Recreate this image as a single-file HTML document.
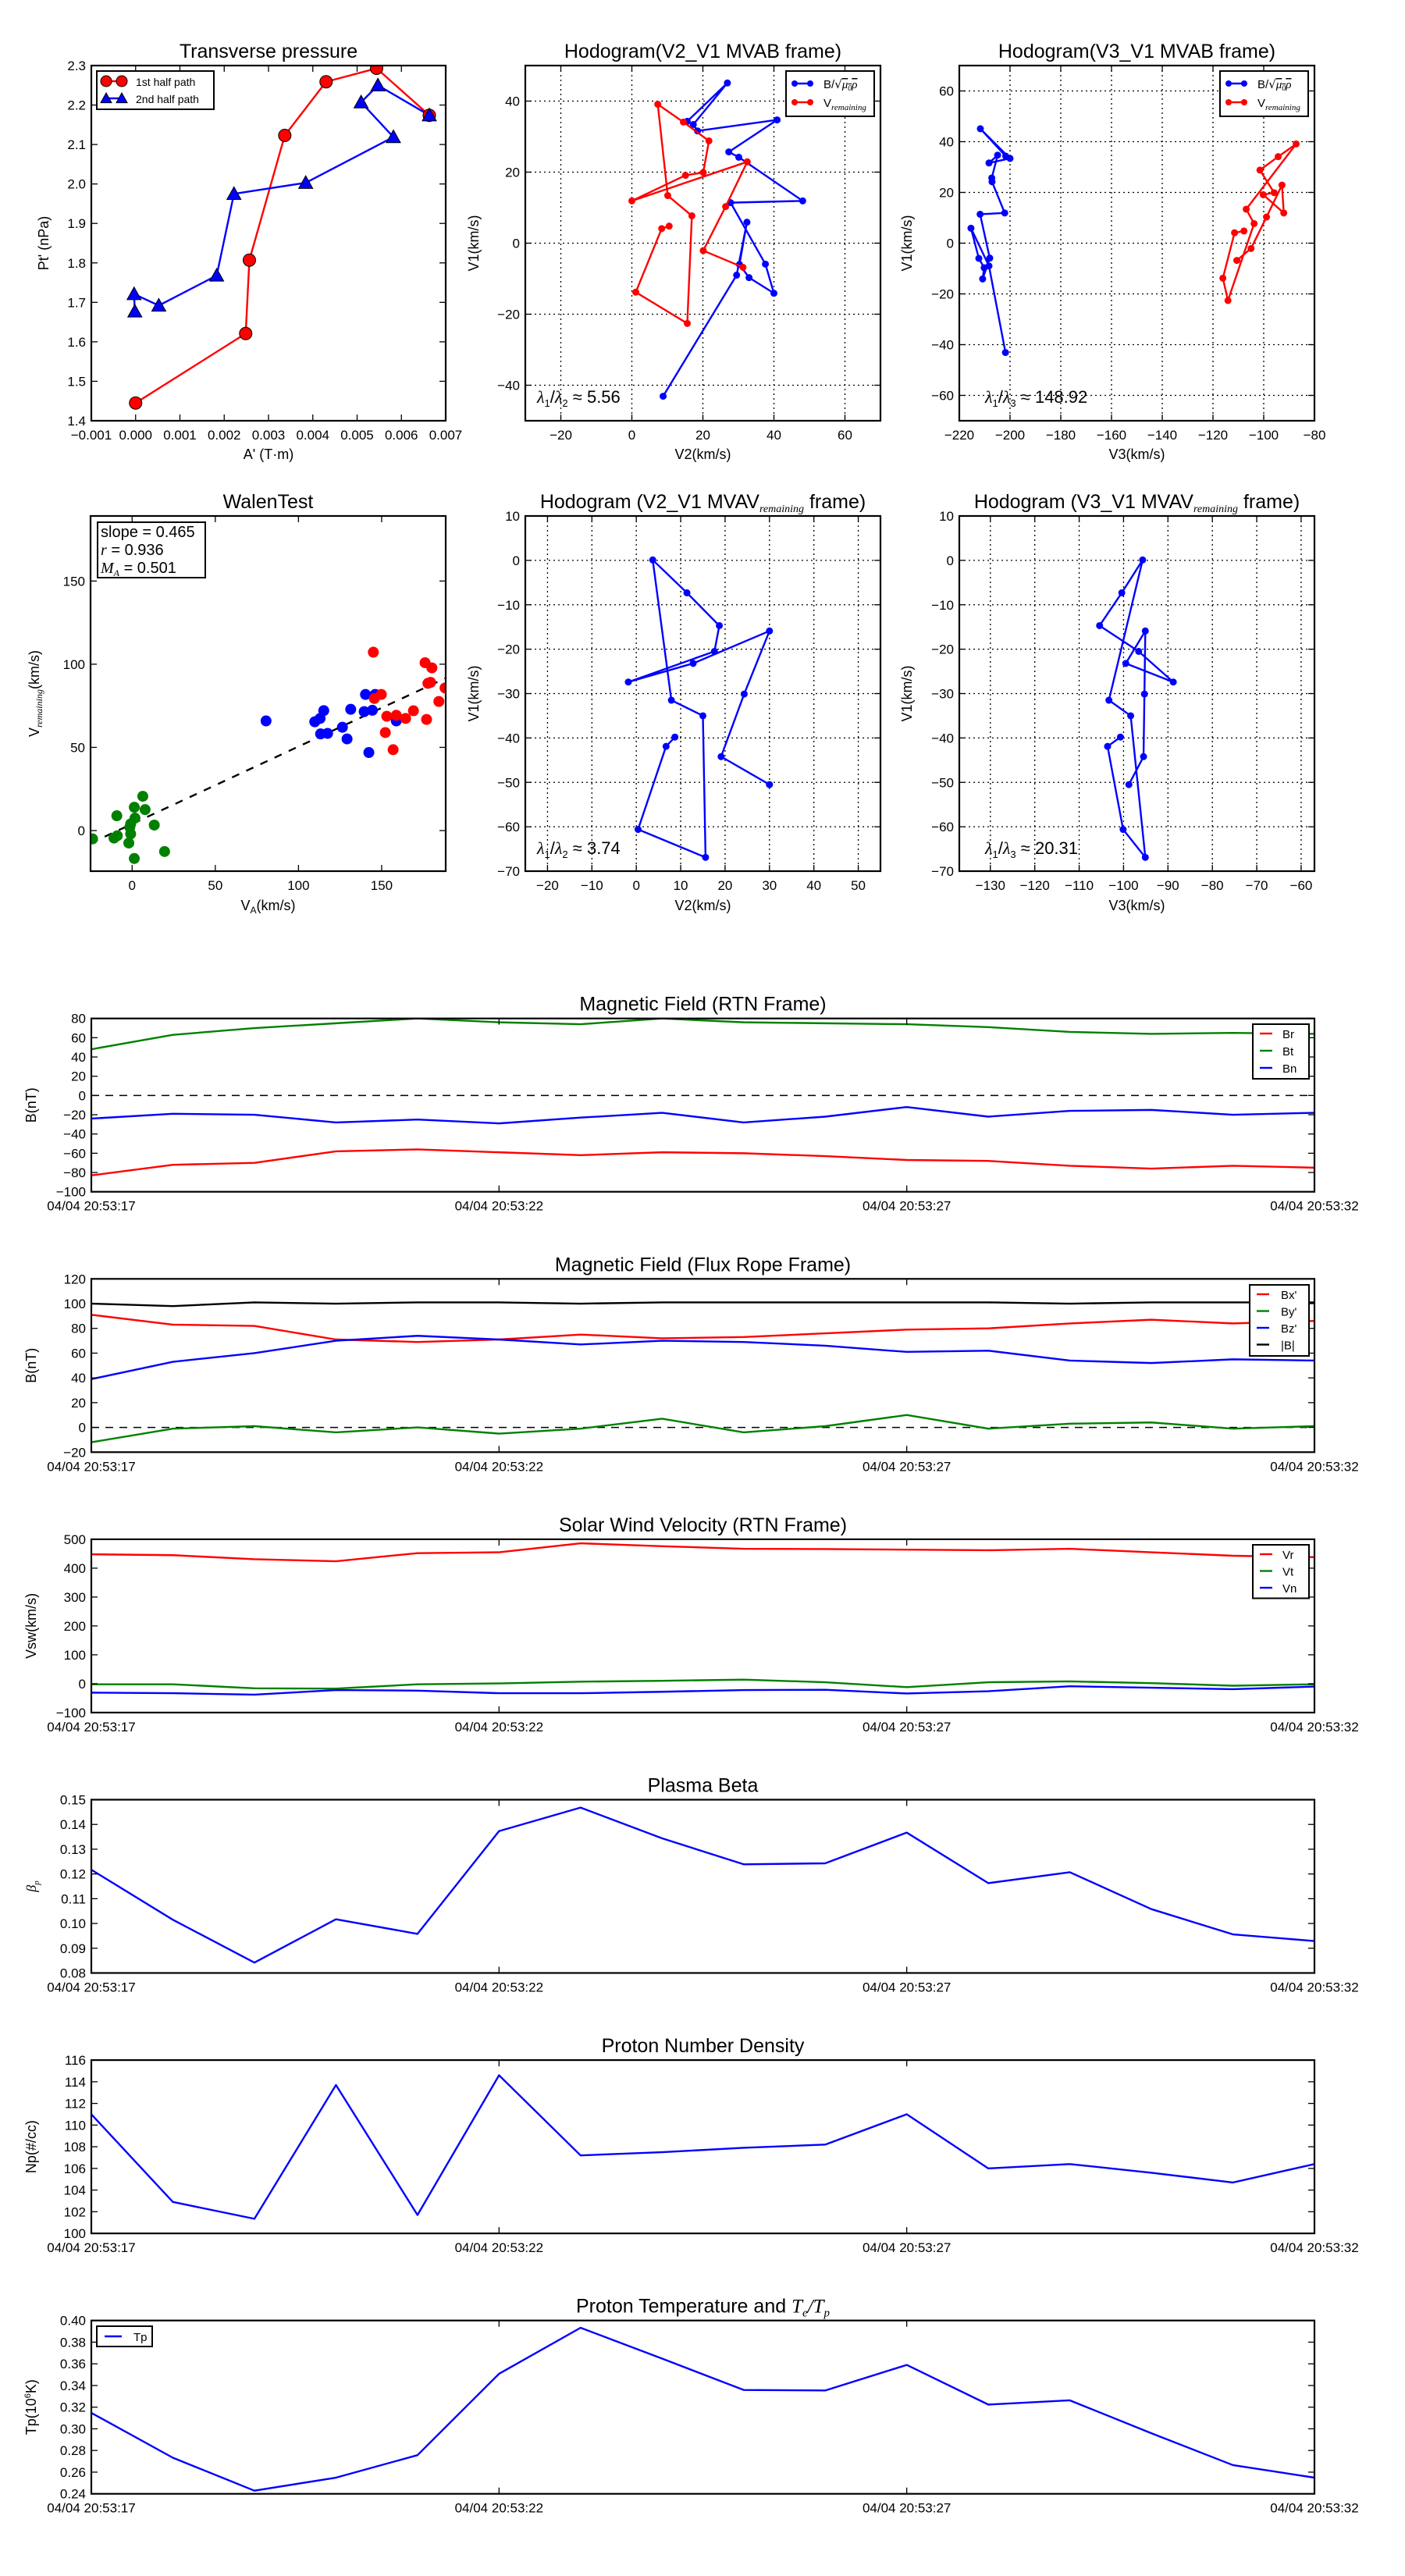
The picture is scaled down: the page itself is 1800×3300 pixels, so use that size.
<!DOCTYPE html>
<html><head><meta charset="utf-8"><title>Flux rope analysis</title>
<style>
html,body{margin:0;padding:0;background:#fff;}
svg{display:block;font-family:"Liberation Sans",sans-serif;}
</style></head>
<body>
<svg id="fig" xmlns="http://www.w3.org/2000/svg" width="1800" height="3300" viewBox="0 0 1800 3300"></svg>
<script>
// ---------- DATA ----------
const tpRedX=[0,0.002485,0.002568,0.003367,0.0043,0.00544,0.00663];
const tpRedY=[1.445,1.621,1.807,2.123,2.259,2.293,2.174];
const tpBlueX=[0.00663,0.00547,0.00509,0.00582,0.00384,0.00222,0.00183,0.000523,-0.000035,-0.000018];
const tpBlueY=[2.174,2.250,2.207,2.119,2.003,1.975,1.768,1.692,1.721,1.677];

const hbV2=[15.6,26.9,17.3,18.5,40.9,27.3,30.1,48.1,27.8,37.6,40,33,30.3,32.4,29.5,8.8];
const hbV1=[34.3,45.1,33.4,31.6,34.7,25.7,24.2,11.9,11.4,-5.9,-14.1,-9.7,-6.0,5.9,-9.0,-43.1];
const hbV3=[-201.7,-211.7,-200,-208.3,-204.9,-207.2,-207.1,-202.1,-211.8,-208,-210.8,-210.2,-212.3,-215.4,-208.3,-201.8];
const hrV2=[10.5,8.4,1.1,15.6,16.9,10.1,7.3,14.5,21.7,20.1,15.1,0,32.5,26.4,20.1,31.3];
const hrV1=[4.8,4.1,-13.8,-22.6,7.7,13.4,39.1,34.1,28.8,19.9,19.1,11.9,22.9,10.3,-2.1,-6.8];
const hrV3=[-107.8,-111.5,-116.1,-114.1,-103.8,-106.9,-87.2,-94.3,-101.5,-95.9,-100.2,-92.1,-92.8,-98.9,-105,-110.6];

const mvV2=[30.0,19.1,24.3,30.0,12.8,-1.8,17.6,18.7,11.4,3.7,7.9,15.0,15.6,0.4,6.7,8.7];
const mvV1=[-50.5,-44.2,-30.1,-15.9,-23.2,-27.4,-20.5,-14.7,-7.3,0.1,-31.5,-35.0,-66.9,-60.6,-41.9,-39.8];
const mvV3=[-98.8,-95.5,-95.3,-95.1,-99.5,-88.8,-96.6,-105.4,-100.4,-95.7,-103.3,-98.4,-95.1,-100.1,-103.6,-100.7];

const walGX=[6.4,1.3,7.8,-9.2,1.7,-0.9,-1.4,13.3,-0.9,-8.9,-10.9,-2,19.5,1.3,-23.8];
const walGY=[20.6,14,12.6,8.9,7.5,4,2,3.3,-2,-3.1,-4.5,-7.5,-12.6,-16.8,-5];
const walBX=[80.5,109.8,113,115.2,113.3,117.5,126.4,129.2,131.4,139.5,140.3,144.4,146.1,142.3,158.8];
const walBY=[65.9,65.4,67.4,72.1,58.1,58.4,62.1,55.1,72.9,71.5,81.8,72.3,81.8,46.9,65.9];
const walRX=[145,145.6,149.8,153.1,152.2,156.9,158.8,164.4,169.1,177,176.1,180.2,177.8,179.4,184.4,188.1];
const walRY=[107.2,79.4,81.8,68.7,58.9,48.6,69.3,67.4,72,66.8,100.9,97.8,88.5,89.1,77.6,85.7];
const walSlope=0.465, walIntercept=4;

const tSec=[17,18,19,20,21,22,23,24,25,26,27,28,29,30,31,32];
const timeTicks=[17,22,27,32];
const timeTickLabels=["04/04 20:53:17","04/04 20:53:22","04/04 20:53:27","04/04 20:53:32"];
const Br=[-83,-72,-70,-58,-56,-59,-62,-59,-60,-63,-67,-68,-73,-76,-73,-75];
const Bt=[48,63,70,75,80,76,74,80,76,75,74,71,66,64,65,64];
const Bn=[-24,-19,-20,-28,-25,-29,-23,-18,-28,-22,-12,-22,-16,-15,-20,-18];
const Bmag=[100,98,101,100,101,101,100,101,101,101,101,101,100,101,101,101];
const Bxp=[91,83,82,71,69,71,75,72,73,76,79,80,84,87,84,86];
const Byp=[-12,-1,1,-4,0,-5,-1,7,-4,1,10,-1,3,4,-1,1];
const Bzp=[39,53,60,70,74,71,67,70,69,66,61,62,54,52,55,54];
const Vr=[448,445,431,424,452,455,486,476,467,466,464,462,467,455,443,438];
const Vt=[-2,-2,-16,-17,-2,1,7,10,14,5,-12,5,8,2,-7,-2];
const Vn=[-31,-33,-38,-22,-24,-33,-33,-28,-22,-21,-34,-26,-9,-14,-19,-10];
const beta=[0.1217,0.1015,0.0842,0.1017,0.0958,0.1373,0.1468,0.1344,0.1239,0.1243,0.1367,0.1163,0.1207,0.1058,0.0956,0.0929];
const Np=[111.0,102.9,101.35,113.7,101.7,114.6,107.2,107.5,107.9,108.2,111.0,106.0,106.4,105.6,104.7,106.4];
const Tp=[0.3147,0.2733,0.2429,0.2549,0.2757,0.3508,0.3933,0.3648,0.3359,0.3354,0.359,0.3224,0.3263,0.2959,0.2665,0.2549];

// ---------- HELPERS ----------
const NS='http://www.w3.org/2000/svg';
const svg=document.getElementById('fig');
function mk(tag,parent){const e=document.createElementNS(NS,tag);(parent||svg).appendChild(e);return e;}
function setA(e,o){for(const k in o)e.setAttribute(k,o[k]);return e;}
function fmt(v,d){const s=Math.abs(v).toFixed(d);return (v<-1e-12?'\u2212':'')+s;}
function txt(parent,x,y,s,size,anchor){const t=mk('text',parent);setA(t,{x:x,y:y,'font-size':size,'text-anchor':anchor||'middle',fill:'#000'});t.textContent=s;return t;}

function axes(c){
  const g=mk('g');
  
  
  const sx=v=>c.x+(v-c.xmin)/(c.xmax-c.xmin)*c.w;
  const sy=v=>c.y+c.h-(v-c.ymin)/(c.ymax-c.ymin)*c.h;
  const clipId='clip-'+c.name;
  const cp=mk('clipPath',g);cp.setAttribute('id',clipId);
  setA(mk('rect',cp),{x:c.x,y:c.y,width:c.w,height:c.h});
  if(c.grid){
    c.xticks.forEach(v=>{const l=mk('line',g);setA(l,{x1:sx(v),x2:sx(v),y1:c.y,y2:c.y+c.h,stroke:'#000','stroke-width':1.3,'stroke-dasharray':'2,4'});});
    c.yticks.forEach(v=>{const l=mk('line',g);setA(l,{x1:c.x,x2:c.x+c.w,y1:sy(v),y2:sy(v),stroke:'#000','stroke-width':1.3,'stroke-dasharray':'2,4'});});
  }
  const plot=mk('g',g);plot.setAttribute('clip-path','url(#'+clipId+')');
  
  
  const top=mk('g',g);
  c.xticks.forEach((v,i)=>{
    const X=sx(v);
    setA(mk('line',top),{x1:X,x2:X,y1:c.y+c.h,y2:c.y+c.h-8,stroke:'#000','stroke-width':1.3});
    setA(mk('line',top),{x1:X,x2:X,y1:c.y,y2:c.y+8,stroke:'#000','stroke-width':1.3});
    const t=txt(top,X,c.y+c.h+24,c.xlabels?c.xlabels[i]:fmt(v,c.xd||0),17);
    
    
  });
  c.yticks.forEach(v=>{
    const Y=sy(v);
    setA(mk('line',top),{x1:c.x,x2:c.x+8,y1:Y,y2:Y,stroke:'#000','stroke-width':1.3});
    setA(mk('line',top),{x1:c.x+c.w,x2:c.x+c.w-8,y1:Y,y2:Y,stroke:'#000','stroke-width':1.3});
    const t=txt(top,c.x-7,Y+6,fmt(v,c.yd||0),17,'end');
    
    
  });
  const fr=mk('rect',top);setA(fr,{x:c.x,y:c.y,width:c.w,height:c.h,fill:'none',stroke:'#000','stroke-width':2.2});
  
  
  if(c.title){const t=txt(top,c.x+c.w/2,c.y-10,'',25);t.innerHTML=c.title;}
  if(c.xlabel){const t=txt(top,c.x+c.w/2,c.xly||c.y+c.h+50,'',18);t.innerHTML=c.xlabel;}
  if(c.ylabel){const t=txt(top,0,0,'',18);t.innerHTML=c.ylabel;setA(t,{transform:'translate('+c.ylx+','+(c.y+c.h/2)+') rotate(-90)'});}
  return {sx,sy,plot,top,c};
}
function line(a,xs,ys,color,name,w,dash){
  const p=mk('polyline',a.plot);
  setA(p,{points:xs.map((x,i)=>a.sx(x)+','+a.sy(ys[i])).join(' '),fill:'none',stroke:color,'stroke-width':w||2.4,'stroke-linejoin':'round'});
  if(dash)p.setAttribute('stroke-dasharray',dash);
  
  
  return p;
}
function dots(a,xs,ys,color,r,name,stroke){
  xs.forEach((x,i)=>{const d=mk('circle',a.plot);setA(d,{cx:a.sx(x),cy:a.sy(ys[i]),r:r,fill:color,stroke:stroke||'none','stroke-width':1});
  
  });
}
function tris(a,xs,ys,color,s,name){
  xs.forEach((x,i)=>{const X=a.sx(x),Y=a.sy(ys[i]);const p=mk('polygon',a.plot);setA(p,{points:(X)+','+(Y-s)+' '+(X-s)+','+(Y+s*0.8)+' '+(X+s)+','+(Y+s*0.8),fill:color,stroke:'#000','stroke-width':1});
  
  });
}
function legend(a,x,y,w,entries,opts){
  const g=mk('g',a.top);
  
  
  const h=entries.length*opts.dy+opts.pad;
  setA(mk('rect',g),{x:x,y:y,width:w,height:h,fill:'#fff',stroke:'#000','stroke-width':2});
  entries.forEach((e,i)=>{
    const Y=y+opts.first+i*opts.dy;
    const item=mk('g',g);
    
    
    setA(mk('line',item),{x1:x+opts.lx1,x2:x+opts.lx2,y1:Y,y2:Y,stroke:e.c,'stroke-width':2.4});
    if(e.m==='o'){[opts.lx1,opts.lx2].forEach(q=>setA(mk('circle',item),{cx:x+q,cy:Y,r:e.r,fill:e.c,stroke:e.s||'none'}));}
    if(e.m==='^'){[opts.lx1,opts.lx2].forEach(q=>setA(mk('polygon',item),{points:(x+q)+','+(Y-e.r)+' '+(x+q-e.r)+','+(Y+e.r*0.8)+' '+(x+q+e.r)+','+(Y+e.r*0.8),fill:e.c,stroke:'#000'}));}
    const t=txt(item,x+opts.tx,Y+6,'',opts.fs,'start');t.innerHTML=e.l;
  });
}
const rng=(a,b,s)=>{const r=[];for(let v=a;v<=b+1e-9;v+=s)r.push(+v.toFixed(6));return r;};
const sub='<tspan font-family="Liberation Serif" font-style="italic" font-size="12" dy="4">remaining</tspan>';
const subL='<tspan font-family="Liberation Serif" font-style="italic" font-size="14" dy="5">remaining</tspan>';
const legB='B/<tspan font-family="DejaVu Sans">\u221A</tspan><tspan font-family="Liberation Serif" font-style="italic" text-decoration="overline">\u03BC<tspan font-size="10" dy="3">0</tspan><tspan dy="-3">\u03C1</tspan></tspan>';
const legV='V<tspan font-family="Liberation Serif" font-style="italic" font-size="11" dy="4">remaining</tspan>';
function lam(a,x,y,k,val){
  const t=txt(a.top,x,y,'',22,'start');
  t.innerHTML='<tspan font-family="Liberation Serif" font-style="italic">\u03BB</tspan><tspan font-size="13" dy="5">1</tspan><tspan dy="-5">/</tspan><tspan font-family="Liberation Serif" font-style="italic">\u03BB</tspan><tspan font-size="13" dy="5">'+k+'</tspan><tspan dy="-5"> \u2248 '+val+'</tspan>';
  
  
}

// ---------- ROW 1 ----------
const R1Y=84,R1H=455,R2Y=661,R2H=455;
const tp=axes({name:'transverse-pressure-chart',x:117,y:R1Y,w:454,h:R1H,xmin:-0.001,xmax:0.007,ymin:1.4,ymax:2.3,
  xticks:rng(-0.001,0.007,0.001),xd:3,yticks:rng(1.4,2.3,0.1),yd:1,title:"Transverse pressure",
  xlabel:"A' (T\u00B7m)",xly:588,ylabel:"Pt' (nPa)",ylx:62});
line(tp,tpRedX,tpRedY,'#f00','first-half-path-line',2.4);
line(tp,tpBlueX,tpBlueY,'#00f','second-half-path-line',2.4);
dots(tp,tpRedX,tpRedY,'#f00',8,'first-half-marker','#000');
tris(tp,tpBlueX,tpBlueY,'#00f',9,'second-half-marker');
legend(tp,124,91,150,[{c:'#f00',m:'o',r:7,s:'#000',l:'1st half path'},{c:'#00f',m:'^',r:7,l:'2nd half path'}],{dy:22,pad:5,first:13,lx1:12,lx2:32,tx:50,fs:14});

const h2=axes({name:'hodogram-v2-v1-mvab',x:673,y:R1Y,w:455,h:R1H,xmin:-30,xmax:70,ymin:-50,ymax:50,
  xticks:rng(-20,60,20),yticks:rng(-40,40,20),grid:true,title:"Hodogram(V2_V1 MVAB frame)",
  xlabel:"V2(km/s)",xly:588,ylabel:"V1(km/s)",ylx:613});
line(h2,hbV2,hbV1,'#00f','b-hodogram-line',2.4);dots(h2,hbV2,hbV1,'#00f',4.5,'b-point');
line(h2,hrV2,hrV1,'#f00','v-hodogram-line',2.4);dots(h2,hrV2,hrV1,'#f00',4.5,'v-point');
legend(h2,1007,91,113,[{c:'#00f',m:'o',r:4,l:legB},{c:'#f00',m:'o',r:4,l:legV}],{dy:24,pad:10,first:16,lx1:11,lx2:31,tx:48,fs:15});
lam(h2,688,516,2,'5.56');

const h3=axes({name:'hodogram-v3-v1-mvab',x:1229,y:R1Y,w:455,h:R1H,xmin:-220,xmax:-80,ymin:-70,ymax:70,
  xticks:rng(-220,-80,20),yticks:rng(-60,60,20),grid:true,title:"Hodogram(V3_V1 MVAB frame)",
  xlabel:"V3(km/s)",xly:588,ylabel:"V1(km/s)",ylx:1168});
line(h3,hbV3,hbV1,'#00f','b-hodogram-line',2.4);dots(h3,hbV3,hbV1,'#00f',4.5,'b-point');
line(h3,hrV3,hrV1,'#f00','v-hodogram-line',2.4);dots(h3,hrV3,hrV1,'#f00',4.5,'v-point');
legend(h3,1563,91,113,[{c:'#00f',m:'o',r:4,l:legB},{c:'#f00',m:'o',r:4,l:legV}],{dy:24,pad:10,first:16,lx1:11,lx2:31,tx:48,fs:15});
lam(h3,1262,516,3,'148.92');

// ---------- ROW 2 ----------
const wal=axes({name:'walen-test-chart',x:116,y:R2Y,w:455,h:R2H,xmin:-25,xmax:188.5,ymin:-24.4,ymax:189.1,
  xticks:[0,50,100,150],yticks:[0,50,100,150],title:"WalenTest",
  xlabel:"V<tspan font-size=\"12\" dy=\"4\">A</tspan><tspan dy=\"-4\">(km/s)</tspan>",xly:1166,
  ylabel:"V"+sub+"<tspan dy=\"-4\">(km/s)</tspan>",ylx:50});
(function(){const xs=[-25,188.5];line(wal,xs,xs.map(v=>walSlope*v+walIntercept),'#000','walen-fit-line',2.4,'10,10');})();
dots(wal,walGX,walGY,'#008000',7,'walen-point-green');
dots(wal,walBX,walBY,'#00f',7,'walen-point-blue');
dots(wal,walRX,walRY,'#f00',7,'walen-point-red');
(function(){const g=mk('g',wal.top);
 setA(mk('rect',g),{x:125,y:669,width:138,height:71,fill:'#fff',stroke:'#000','stroke-width':2});
 txt(g,129,688,'slope = 0.465',20,'start');
 const a=txt(g,129,711,'',20,'start');a.innerHTML='<tspan font-family="Liberation Serif" font-style="italic">r</tspan> = 0.936';
 const b=txt(g,129,734,'',20,'start');b.innerHTML='<tspan font-family="Liberation Serif" font-style="italic">M</tspan><tspan font-family="Liberation Serif" font-style="italic" font-size="12" dy="4">A</tspan><tspan dy="-4"> = 0.501</tspan>';})();

const m2=axes({name:'hodogram-v2-v1-mvav',x:673,y:R2Y,w:455,h:R2H,xmin:-25,xmax:55,ymin:-70,ymax:10,
  xticks:rng(-20,50,10),yticks:rng(-70,10,10),grid:true,title:"Hodogram (V2_V1 MVAV"+subL+"<tspan dy=\"-5\"> frame)</tspan>",
  xlabel:"V2(km/s)",xly:1166,ylabel:"V1(km/s)",ylx:613});
line(m2,mvV2,mvV1,'#00f','v-hodogram-line',2.4);dots(m2,mvV2,mvV1,'#00f',4.5,'v-point');
lam(m2,688,1094,2,'3.74');

const m3=axes({name:'hodogram-v3-v1-mvav',x:1229,y:R2Y,w:455,h:R2H,xmin:-137,xmax:-57,ymin:-70,ymax:10,
  xticks:rng(-130,-60,10),yticks:rng(-70,10,10),grid:true,title:"Hodogram (V3_V1 MVAV"+subL+"<tspan dy=\"-5\"> frame)</tspan>",
  xlabel:"V3(km/s)",xly:1166,ylabel:"V1(km/s)",ylx:1168});
line(m3,mvV3,mvV1,'#00f','v-hodogram-line',2.4);dots(m3,mvV3,mvV1,'#00f',4.5,'v-point');
lam(m3,1262,1094,3,'20.31');

// ---------- TIME SERIES ----------
const TX=117,TW=1567,TH=222,T0=1304.7,TP=333.6;
function tsAxes(i,name,title,ymin,ymax,yt,yd,ylabel){
  return axes({name:name,x:TX,y:T0+TP*i,w:TW,h:TH,xmin:17,xmax:32,ymin:ymin,ymax:ymax,xticks:timeTicks,xlabels:timeTickLabels,
    yticks:yt,yd:yd,title:title,ylabel:ylabel,ylx:46});
}
const rtn=tsAxes(0,'magnetic-field-rtn-chart','Magnetic Field (RTN Frame)',-100,80,rng(-100,80,20),0,'B(nT)');
line(rtn,[17,32],[0,0],'#000','zero-line',1.5,'10,8');
line(rtn,tSec,Br,'#f00','br-line');line(rtn,tSec,Bt,'#008000','bt-line');line(rtn,tSec,Bn,'#00f','bn-line');
legend(rtn,1605,1312,72,[{c:'#f00',l:'Br'},{c:'#008000',l:'Bt'},{c:'#00f',l:'Bn'}],{dy:22,pad:4,first:12,lx1:9,lx2:25,tx:38,fs:15});

const fr=tsAxes(1,'magnetic-field-flux-rope-chart','Magnetic Field (Flux Rope Frame)',-20,120,rng(-20,120,20),0,'B(nT)');
line(fr,[17,32],[0,0],'#000','zero-line',1.5,'10,8');
line(fr,tSec,Bxp,'#f00','bx-prime-line');line(fr,tSec,Byp,'#008000','by-prime-line');line(fr,tSec,Bzp,'#00f','bz-prime-line');line(fr,tSec,Bmag,'#000','b-magnitude-line');
legend(fr,1601,1646,76,[{c:'#f00',l:"Bx'"},{c:'#008000',l:"By'"},{c:'#00f',l:"Bz'"},{c:'#000',l:'|B|'}],{dy:21.5,pad:5,first:12,lx1:9,lx2:25,tx:40,fs:15});

const vel=tsAxes(2,'solar-wind-velocity-chart','Solar Wind Velocity (RTN Frame)',-100,500,rng(-100,500,100),0,'Vsw(km/s)');
line(vel,tSec,Vr,'#f00','vr-line');line(vel,tSec,Vt,'#008000','vt-line');line(vel,tSec,Vn,'#00f','vn-line');
legend(vel,1605,1979,72,[{c:'#f00',l:'Vr'},{c:'#008000',l:'Vt'},{c:'#00f',l:'Vn'}],{dy:21.5,pad:4,first:12,lx1:9,lx2:25,tx:38,fs:15});

const bet=tsAxes(3,'plasma-beta-chart','Plasma Beta',0.08,0.15,rng(0.08,0.15,0.01),2,'<tspan font-family="Liberation Serif" font-style="italic">\u03B2</tspan><tspan font-family="Liberation Serif" font-style="italic" font-size="11" dy="4">p</tspan>');
line(bet,tSec,beta,'#00f','beta-line');

const den=tsAxes(4,'proton-density-chart','Proton Number Density',100,116,rng(100,116,2),0,'Np(#/cc)');
line(den,tSec,Np,'#00f','density-line');

const tem=tsAxes(5,'proton-temperature-chart','Proton Temperature and <tspan font-family="Liberation Serif" font-style="italic">T</tspan><tspan font-family="Liberation Serif" font-style="italic" font-size="15" dy="5">e</tspan><tspan dy="-5" font-family="Liberation Serif" font-style="italic">/T</tspan><tspan font-family="Liberation Serif" font-style="italic" font-size="15" dy="5">p</tspan>',0.24,0.40,rng(0.24,0.40,0.02),2,'Tp(10<tspan font-size="11" dy="-7">6</tspan><tspan dy="7">K)</tspan>');
line(tem,tSec,Tp,'#00f','temperature-line');
legend(tem,124,2980,71,[{c:'#00f',l:'Tp'}],{dy:22,pad:4,first:13,lx1:10,lx2:32,tx:47,fs:15});
</script>
</body></html>
